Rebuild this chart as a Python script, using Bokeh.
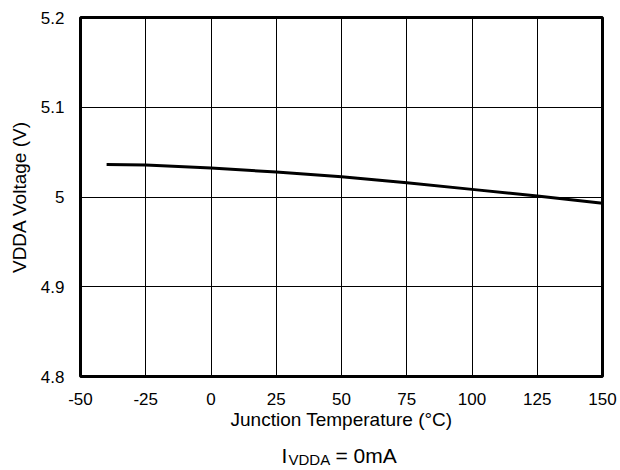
from bokeh.plotting import figure
from bokeh.layouts import column
from bokeh.models import Range1d, FixedTicker, Label
from bokeh.embed import file_html
from bokeh.resources import INLINE

temps = [-40, -25, 0, 25, 50, 75, 100, 125, 150]
vdda = [5.0363, 5.0356, 5.0322, 5.0278, 5.0226, 5.0159, 5.0085, 5.0010, 4.9930]
x_ticks = [-50, -25, 0, 25, 50, 75, 100, 125, 150]
x_tick_labels = {-50: "-50", -25: "-25"}
y_ticks = [4.8, 4.9, 5.0, 5.1, 5.2]
y_tick_labels = {4.8: "4.8", 4.9: "4.9", 5.0: "5", 5.1: "5.1", 5.2: "5.2"}

FONT = "Liberation Sans"

p = figure(width=620, height=434, output_backend="svg", toolbar_location=None,
           x_range=Range1d(-50, 150), y_range=Range1d(4.8, 5.2),
           min_border_left=80, min_border_right=18, min_border_top=17, min_border_bottom=58)

p.line(temps, vdda, line_color="black", line_width=3)

for ax in (p.xaxis[0], p.yaxis[0]):
    ax.axis_line_color = None
    ax.major_tick_line_color = None
    ax.minor_tick_line_color = None
    ax.major_label_text_font = FONT
    ax.major_label_text_font_size = "17px"
    ax.major_label_text_color = "black"
    ax.axis_label_text_font = FONT
    ax.axis_label_text_font_size = "19px"
    ax.axis_label_text_font_style = "normal"
    ax.axis_label_text_color = "black"

p.xaxis.ticker = FixedTicker(ticks=x_ticks)
p.yaxis.ticker = FixedTicker(ticks=y_ticks)
p.xaxis.major_label_overrides = x_tick_labels
p.yaxis.major_label_overrides = y_tick_labels
p.xaxis.axis_label = "Junction Temperature (°C)"
p.yaxis.axis_label = "VDDA Voltage (V)"
p.xaxis.major_label_standoff = 10
p.yaxis.major_label_standoff = 10
p.xaxis.axis_label_standoff = 1
p.yaxis.axis_label_standoff = 8

p.xgrid.grid_line_color = "black"
p.ygrid.grid_line_color = "black"
p.xgrid.grid_line_width = 1
p.ygrid.grid_line_width = 1
p.xgrid.grid_line_alpha = 1
p.ygrid.grid_line_alpha = 1

p.outline_line_color = "black"
p.outline_line_width = 3
p.outline_line_alpha = 1

# Condition note below the chart (frame aligned with the main plot's frame,
# so its x data units equal page pixels)
note = figure(width=620, height=36, output_backend="svg", toolbar_location=None,
              title_location=None,
              x_range=Range1d(80, 602), y_range=Range1d(0, 36),
              min_border_left=80, min_border_right=18, min_border_top=0, min_border_bottom=0,
              x_axis_type=None, y_axis_type=None)
note.outline_line_color = None
note.grid.grid_line_color = None
note.add_layout(Label(x=281, y=15, text="I", text_font=FONT, text_font_size="21px",
                      text_color="black", text_baseline="alphabetic"))
note.add_layout(Label(x=288, y=11, text="VDDA", text_font=FONT, text_font_size="15px",
                      text_color="black", text_baseline="alphabetic"))
note.add_layout(Label(x=335, y=15, text="= 0mA", text_font=FONT, text_font_size="21px",
                      text_color="black", text_baseline="alphabetic"))

layout = column(p, note, spacing=0)
open("out.html", "w").write(file_html(layout, INLINE))
